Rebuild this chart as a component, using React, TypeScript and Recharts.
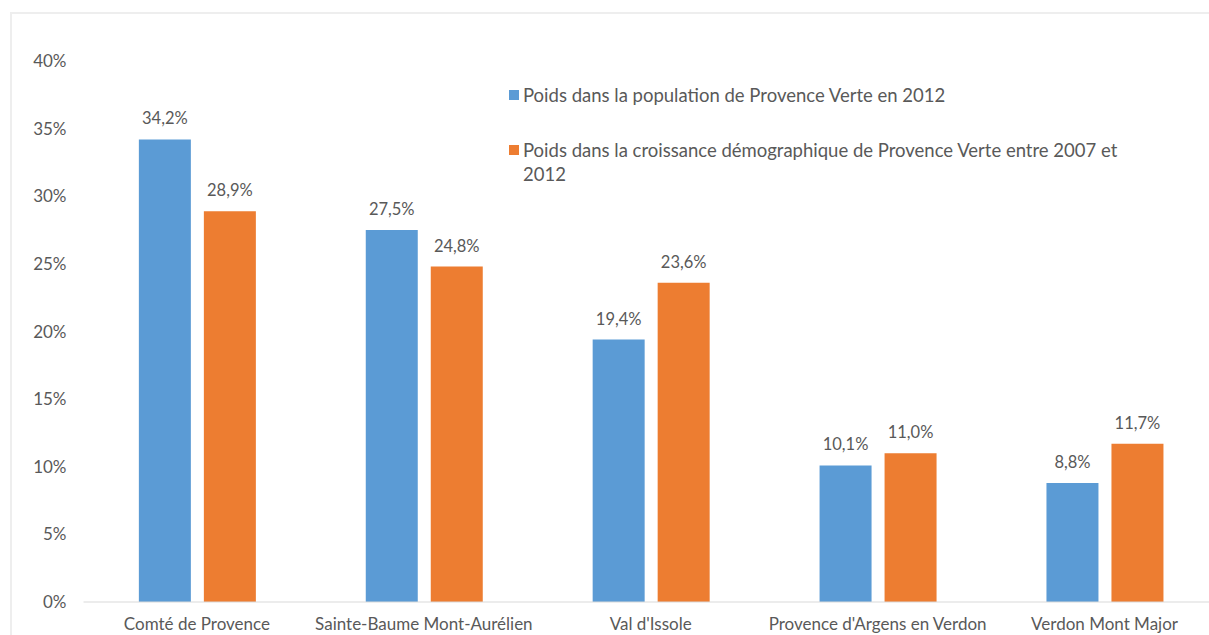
import { BarChart, Bar, XAxis, YAxis, Legend, LabelList } from 'recharts';

const categories = [
  "Comté de Provence",
  "Sainte-Baume Mont-Aurélien",
  "Val d'Issole",
  "Provence d'Argens en Verdon",
  "Verdon Mont Major",
];
const population = [34.2, 27.5, 19.4, 10.1, 8.8];
const croissance = [28.9, 24.8, 23.6, 11.0, 11.7];
const yTicks = [0, 5, 10, 15, 20, 25, 30, 35, 40];

const popLabel = "Poids dans la population de Provence Verte en 2012";
const croLabel = "Poids dans la croissance démographique de Provence Verte entre 2007 et 2012";

const BLUE = "#5B9BD5";
const ORANGE = "#ED7D31";
const TEXT = "#595959";
const FONT = "Lato, 'Open Sans', sans-serif";

const data = categories.map((name, i) => ({
  name,
  pop: population[i],
  cro: croissance[i],
}));

const fmt = (v: any) => `${Number(v).toFixed(1).replace('.', ',')}%`;

const LegendBox = () => (
  <div style={{ fontFamily: FONT, fontSize: 18.5, color: TEXT, lineHeight: '24px', textAlign: 'left' }}>
    <div style={{ display: 'flex', alignItems: 'flex-start' }}>
      <span style={{ width: 10, height: 10, background: BLUE, marginTop: 7, marginRight: 4, flex: 'none' }} />
      <span>{popLabel}</span>
    </div>
    <div style={{ display: 'flex', alignItems: 'flex-start', marginTop: 31 }}>
      <span style={{ width: 10, height: 10, background: ORANGE, marginTop: 7, marginRight: 4, flex: 'none' }} />
      <span style={{ maxWidth: 618 }}>{croLabel}</span>
    </div>
  </div>
);

export default function App() {
  return (
    <div style={{ position: 'absolute', left: 0, top: 0, width: 1209, height: 635, overflow: 'hidden', background: '#fff' }}>
      <div style={{ position: 'absolute', left: 10, top: 12, width: 1300, height: 700, border: '2px solid #eeeeee' }} />
      <div style={{ position: 'absolute', left: 0, top: 0 }}>
        <BarChart
          width={1260}
          height={660}
          data={data}
          margin={{ top: 61, right: 42, bottom: 28, left: 0 }}
          barGap={13}
          barCategoryGap="24.4%"
        >
          <XAxis
            dataKey="name"
            axisLine={{ stroke: '#d9d9d9' }}
            tickLine={false}
            height={30}
            tick={{ fill: TEXT, fontSize: 17, fontFamily: FONT }}
            tickMargin={10}
            interval={0}
          />
          <YAxis
            domain={[0, 40]}
            ticks={yTicks}
            width={83.5}
            axisLine={false}
            tickLine={false}
            tickMargin={11}
            tickFormatter={(v: number) => `${v}%`}
            tick={{ fill: TEXT, fontSize: 17, fontFamily: FONT }}
          />
          <Legend
            layout="horizontal"
            verticalAlign="middle"
            align="center"
            content={() => <LegendBox />}
            wrapperStyle={{ position: 'absolute', left: 509, top: 83, width: 660 }}
          />
          <Bar dataKey="pop" name={popLabel} fill={BLUE} isAnimationActive={false}>
            <LabelList dataKey="pop" position="top" offset={15} formatter={fmt} style={{ fill: TEXT, fontSize: 16.5, fontFamily: FONT }} />
          </Bar>
          <Bar dataKey="cro" name={croLabel} fill={ORANGE} isAnimationActive={false}>
            <LabelList dataKey="cro" position="top" offset={15} formatter={fmt} style={{ fill: TEXT, fontSize: 16.5, fontFamily: FONT }} />
          </Bar>
        </BarChart>
      </div>
    </div>
  );
}
